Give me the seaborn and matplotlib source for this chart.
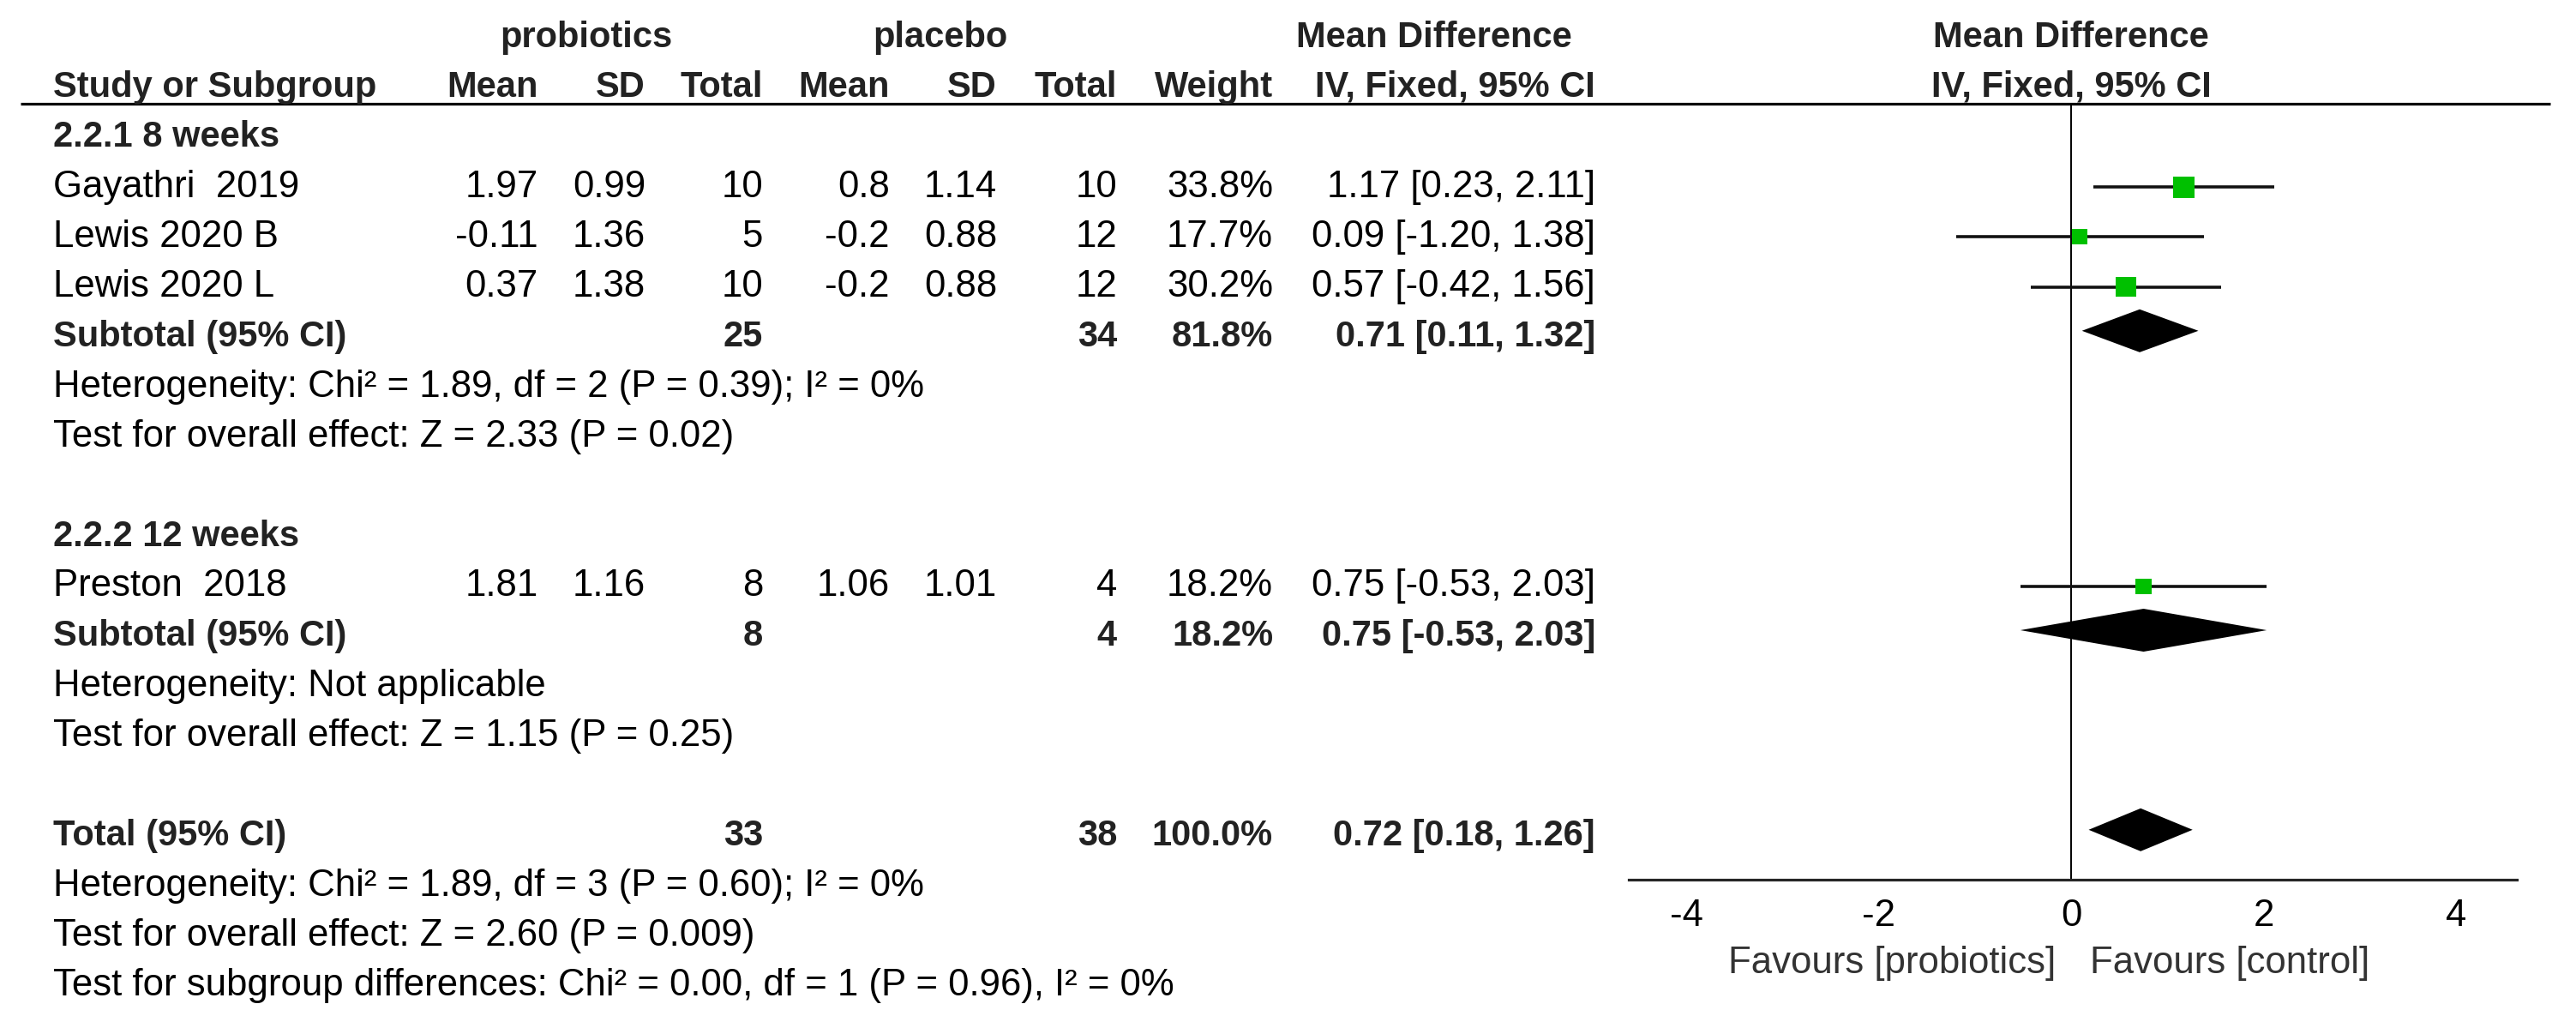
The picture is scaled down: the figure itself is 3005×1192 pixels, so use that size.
import numpy as np
import pandas as pd
import seaborn as sns
import matplotlib.pyplot as plt
from matplotlib.patches import Polygon

sns.set_style('white')
plt.rcParams['font.family'] = ['Liberation Sans', 'DejaVu Sans']

# ---- data ----
studies = ['Gayathri  2019', 'Lewis 2020 B', 'Lewis 2020 L', 'Preston  2018']
study_group = [0, 0, 0, 1]
prob_mean = [1.97, -0.11, 0.37, 1.81]
prob_sd = [0.99, 1.36, 1.38, 1.16]
prob_n = [10, 5, 10, 8]
plac_mean = [0.8, -0.2, -0.2, 1.06]
plac_sd = [1.14, 0.88, 0.88, 1.01]
plac_n = [10, 12, 12, 4]
weight = [33.8, 17.7, 30.2, 18.2]
md = [1.17, 0.09, 0.57, 0.75]
md_lo = [0.23, -1.20, -0.42, -0.53]
md_hi = [2.11, 1.38, 1.56, 2.03]

subgroups = ['2.2.1 8 weeks', '2.2.2 12 weeks']
sub_prob_n = [25, 8]
sub_plac_n = [34, 4]
sub_weight = [81.8, 18.2]
sub_md = [0.71, 0.75]
sub_lo = [0.11, -0.53]
sub_hi = [1.32, 2.03]
sub_het = ['Heterogeneity: Chi² = 1.89, df = 2 (P = 0.39); I² = 0%',
           'Heterogeneity: Not applicable']
sub_test = ['Test for overall effect: Z = 2.33 (P = 0.02)',
            'Test for overall effect: Z = 1.15 (P = 0.25)']

total_prob_n, total_plac_n, total_weight = 33, 38, 100.0
total_md, total_lo, total_hi = 0.72, 0.18, 1.26
total_notes = ['Heterogeneity: Chi² = 1.89, df = 3 (P = 0.60); I² = 0%',
               'Test for overall effect: Z = 2.60 (P = 0.009)',
               'Test for subgroup differences: Chi² = 0.00, df = 1 (P = 0.96), I² = 0%']
x_ticks = [-4, -2, 0, 2, 4]

# ---- layout (pixels) ----
W, H = 3005, 1192
row0, row_h = 160, 58.2
fs, fs_bold = 31.5, 30
col_name = 62
col_right = {'pm': 628, 'ps': 753, 'pn': 890, 'cm': 1038, 'cs': 1163,
             'cn': 1303, 'w': 1485, 'ci': 1861}
line_row = (121 - row0) / row_h
axis_px, plot_l, plot_r = 1026, 1900, 2936

fig = plt.figure(figsize=(W / 100, H / 100), dpi=100)
tax = fig.add_axes([0, 0, 1, 1])
tax.set_xlim(0, W)
tax.set_ylim((H - row0) / row_h, -row0 / row_h)
tax.axis('off')

hdr = '#222222'


def txt(x, r, s, ha='left', bold=False, color=None, **kw):
    if color is None:
        color = hdr if bold else 'black'
    tax.text(x, r, s, ha=ha, va='center', fontsize=fs_bold if bold else fs,
             fontweight='bold' if bold else 'normal', color=color, **kw)


def ci_str(m, lo, hi):
    return f'{m:.2f} [{lo:.2f}, {hi:.2f}]'


# headers
txt(684, -2, 'probiotics', ha='center', bold=True)
txt(1097, -2, 'placebo', ha='center', bold=True)
txt(1673, -2, 'Mean Difference', ha='center', bold=True)
txt(2416, -2, 'Mean Difference', ha='center', bold=True)
txt(col_name, -1, 'Study or Subgroup', bold=True)
for key, lab in [('pm', 'Mean'), ('ps', 'SD'), ('pn', 'Total'), ('cm', 'Mean'),
                 ('cs', 'SD'), ('cn', 'Total'), ('w', 'Weight'),
                 ('ci', 'IV, Fixed, 95% CI')]:
    txt(col_right[key], -1, lab, ha='right', bold=True)
txt(2416, -1, 'IV, Fixed, 95% CI', ha='center', bold=True)
tax.plot([24, 2975], [line_row, line_row], color='black', lw=2.3,
         solid_capstyle='butt')

# rows
study_rows, sub_rows = [], []
r = 0
for g, gname in enumerate(subgroups):
    txt(col_name, r, gname, bold=True)
    r += 1
    for i in [k for k, sg in enumerate(study_group) if sg == g]:
        study_rows.append(r)
        txt(col_name, r, studies[i])
        txt(col_right['pm'], r, f'{prob_mean[i]:g}', ha='right')
        txt(col_right['ps'], r, f'{prob_sd[i]:g}', ha='right')
        txt(col_right['pn'], r, f'{prob_n[i]}', ha='right')
        txt(col_right['cm'], r, f'{plac_mean[i]:g}', ha='right')
        txt(col_right['cs'], r, f'{plac_sd[i]:g}', ha='right')
        txt(col_right['cn'], r, f'{plac_n[i]}', ha='right')
        txt(col_right['w'], r, f'{weight[i]:.1f}%', ha='right')
        txt(col_right['ci'], r, ci_str(md[i], md_lo[i], md_hi[i]), ha='right')
        r += 1
    sub_rows.append(r)
    txt(col_name, r, 'Subtotal (95% CI)', bold=True)
    txt(col_right['pn'], r, f'{sub_prob_n[g]}', ha='right', bold=True)
    txt(col_right['cn'], r, f'{sub_plac_n[g]}', ha='right', bold=True)
    txt(col_right['w'], r, f'{sub_weight[g]:.1f}%', ha='right', bold=True)
    txt(col_right['ci'], r, ci_str(sub_md[g], sub_lo[g], sub_hi[g]), ha='right',
        bold=True)
    txt(col_name, r + 1, sub_het[g])
    txt(col_name, r + 2, sub_test[g])
    r += 4

total_row = r
txt(col_name, r, 'Total (95% CI)', bold=True)
txt(col_right['pn'], r, f'{total_prob_n}', ha='right', bold=True)
txt(col_right['cn'], r, f'{total_plac_n}', ha='right', bold=True)
txt(col_right['w'], r, f'{total_weight:.1f}%', ha='right', bold=True)
txt(col_right['ci'], r, ci_str(total_md, total_lo, total_hi), ha='right',
    bold=True)
for k, note in enumerate(total_notes):
    txt(col_name, r + 1 + k, note)

# ---- forest panel ----
fax = fig.add_axes([plot_l / W, (H - axis_px) / H, (plot_r - plot_l) / W,
                    (axis_px - 121) / H])
fax.set_xlim(-4.6, 4.63)
fax.set_ylim((axis_px - row0) / row_h, line_row)
fax.patch.set_alpha(0)
for s in ['top', 'left', 'right']:
    fax.spines[s].set_visible(False)
fax.spines['bottom'].set_linewidth(2.3)
fax.set_yticks([])
fax.set_xticks(x_ticks)
fax.set_xticklabels([f'{t}' for t in x_ticks], fontsize=fs)
fax.tick_params(axis='x', direction='inout', length=23, width=1.5, pad=4,
                colors='black')
fax.axvline(0, color='black', lw=1.4)

df = pd.DataFrame({'md': md, 'lo': md_lo, 'hi': md_hi, 'w': weight,
                   'row': study_rows})
fax.hlines(df['row'], df['lo'], df['hi'], color='#111111', lw=2.6)
sns.scatterplot(data=df, x='md', y='row', marker='s', s=df['w'] * 9.6,
                color='#00c000', linewidth=0, ax=fax, zorder=3)

half_h = 0.43
diamonds = [(sub_md[g], sub_lo[g], sub_hi[g], sub_rows[g] - 0.12)
            for g in range(len(subgroups))]
diamonds.append((total_md, total_lo, total_hi, total_row - 0.12))
for m, lo, hi, rr in diamonds:
    fax.add_patch(Polygon([[lo, rr], [m, rr - half_h], [hi, rr], [m, rr + half_h]],
                          closed=True, color='black', lw=0))
fax.set_xlabel('')
fax.set_ylabel('')

fav_row = (1123 - row0) / row_h
txt(2398, fav_row, 'Favours [probiotics]', ha='right', color='#333333')
txt(2438, fav_row, 'Favours [control]', color='#333333')

fig.savefig('out.png', dpi=100)
